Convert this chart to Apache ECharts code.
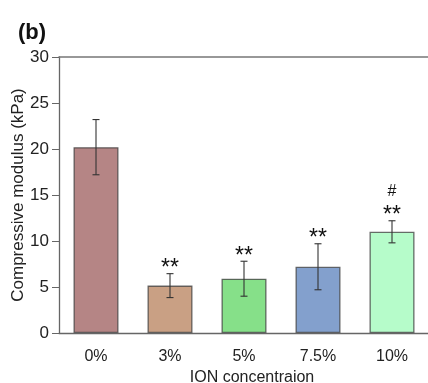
<!DOCTYPE html>
<html><head><meta charset="utf-8">
<script src="https://cdn.jsdelivr.net/npm/echarts@6/dist/echarts.min.js"></script>
<style>html,body{margin:0;padding:0;background:#fff}#c{width:428px;height:383px}</style>
</head><body><div id="c"></div>
<script>
var categories = ['0%', '3%', '5%', '7.5%', '10%'];
var means = [20.2, 5.15, 5.9, 7.2, 11.0];
var errors = [3.0, 1.3, 1.9, 2.5, 1.2];
var marks = ['', '**', '**', '**', '**'];
var marks2 = ['', '', '', '', '#'];
var colors = ['#b58585', '#c9a084', '#86e089', '#83a0cd', '#b6fcca'];
var yTicks = [0, 5, 10, 15, 20, 25, 30];

var font = 'Liberation Sans, Arial, Helvetica, sans-serif';
var chart = echarts.init(document.getElementById('c'));
chart.setOption({
  animation: false,
  title: {text: '(b)', left: 13, top: 17, textStyle: {fontFamily: font, fontSize: 22, fontWeight: 'bold', color: '#111'}},
  grid: {left: 59, right: -1, top: 57, bottom: 50, containLabel: false, outerBoundsMode: 'none'},
  xAxis: [{
    type: 'category', data: categories,
    name: 'ION concentraion', nameLocation: 'middle', nameGap: 37, nameMoveOverlap: false,
    nameTextStyle: {fontFamily: font, fontSize: 16, color: '#222', padding: [0, 0, 0, 16]},
    axisLine: {lineStyle: {color: '#666', width: 1.3}},
    axisTick: {alignWithLabel: true, length: 7, lineStyle: {color: '#666'}},
    axisLabel: {fontFamily: font, fontSize: 16, color: '#222', margin: 16}
  }, {
    type: 'category', data: categories, position: 'top',
    axisLine: {show: true, lineStyle: {color: '#777', width: 1.5}},
    axisTick: {show: false}, axisLabel: {show: false}
  }],
  yAxis: {
    type: 'value', min: 0, max: 30, interval: 5,
    name: 'Compressive modulus (kPa)', nameLocation: 'middle', nameGap: 32, nameMoveOverlap: false,
    nameTextStyle: {fontFamily: font, fontSize: 17, color: '#222'},
    axisLine: {show: true, lineStyle: {color: '#666', width: 1.3}},
    axisTick: {show: true, length: 7, lineStyle: {color: '#666'}},
    axisLabel: {fontFamily: font, fontSize: 17, color: '#222', margin: 10,
      formatter: function (v) { return yTicks.indexOf(v) >= 0 ? String(v) : ''; }},
    splitLine: {show: false}
  },
  series: [{
    type: 'bar', barWidth: 45,
    data: means.map(function (v, i) {
      return {value: v, itemStyle: {color: colors[i], borderColor: 'rgba(60,60,60,0.75)', borderWidth: 1.3}};
    })
  }, {
    type: 'custom',
    data: means.map(function (v, i) { return [i, v, errors[i]]; }),
    renderItem: function (params, api) {
      var i = api.value(0), m = api.value(1), e = api.value(2);
      var top = api.coord([i, m + e]);
      var bot = api.coord([i, m - e]);
      var w = 3.5;
      var st = {stroke: '#333', lineWidth: 1.1};
      var children = [
        {type: 'line', shape: {x1: top[0], y1: top[1], x2: bot[0], y2: bot[1]}, style: st},
        {type: 'line', shape: {x1: top[0] - w, y1: top[1], x2: top[0] + w, y2: top[1]}, style: st},
        {type: 'line', shape: {x1: bot[0] - w, y1: bot[1], x2: bot[0] + w, y2: bot[1]}, style: st}
      ];
      if (marks[i]) {
        children.push({type: 'text', style: {text: marks[i], x: top[0], y: top[1] - 5, align: 'center', verticalAlign: 'middle',
          fontFamily: font, fontSize: 23, fill: '#111'}});
      }
      if (marks2[i]) {
        children.push({type: 'text', style: {text: marks2[i], x: top[0], y: top[1] - 29, align: 'center', verticalAlign: 'middle',
          fontFamily: font, fontSize: 16, fill: '#111'}});
      }
      return {type: 'group', children: children};
    },
    z: 5
  }]
});
</script>
</body></html>
